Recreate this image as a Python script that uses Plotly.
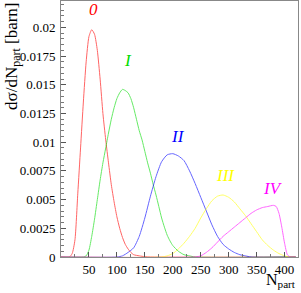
import plotly.graph_objects as go

# ---- data ----
n_0 = [0, 15, 20, 25, 30, 35, 40, 45, 50, 55, 60, 65, 70, 75, 80, 85, 90, 95, 100, 105, 110, 115, 120, 125, 130, 140, 150, 160, 420]
v_0 = [0, 0, 0.0003, 0.0015, 0.0055, 0.0095, 0.0135, 0.017, 0.0192, 0.0198, 0.0194, 0.018, 0.0155, 0.0125, 0.0102, 0.0082, 0.0063, 0.0048, 0.0035, 0.0025, 0.0017, 0.0011, 0.0007, 0.0004, 0.0002, 0.0001, 0.00003, 0, 0]

n_1 = [0, 40, 45, 50, 55, 60, 65, 70, 75, 80, 85, 90, 95, 100, 105, 110, 115, 120, 125, 130, 135, 140, 145, 150, 155, 160, 165, 170, 175, 180, 185, 190, 195, 200, 210, 220, 230, 240, 420]
v_1 = [0, 0, 0.0001, 0.0006, 0.0018, 0.0033, 0.005, 0.0067, 0.0082, 0.0095, 0.0108, 0.012, 0.013, 0.0138, 0.0143, 0.0146, 0.0145, 0.0143, 0.0138, 0.013, 0.012, 0.011, 0.0102, 0.0092, 0.0082, 0.0073, 0.0063, 0.0054, 0.0044, 0.0034, 0.0026, 0.0019, 0.0014, 0.001, 0.0005, 0.0002, 0.0001, 0, 0]

n_2 = [0, 100, 110, 120, 130, 140, 150, 160, 170, 180, 190, 200, 210, 220, 230, 240, 250, 260, 270, 280, 290, 300, 310, 320, 330, 340, 420]
v_2 = [0, 0, 0.0001, 0.0004, 0.0008, 0.0018, 0.0034, 0.0053, 0.007, 0.0083, 0.0089, 0.009, 0.0088, 0.0084, 0.0075, 0.0064, 0.0052, 0.004, 0.0028, 0.0018, 0.0011, 0.0007, 0.0004, 0.0002, 0.0001, 0, 0]

n_3 = [0, 180, 190, 200, 210, 220, 230, 240, 250, 260, 270, 280, 290, 300, 310, 320, 330, 340, 350, 360, 370, 380, 390, 400, 410, 420]
v_3 = [0, 0, 0.0001, 0.0003, 0.0007, 0.0012, 0.0018, 0.0025, 0.0034, 0.0042, 0.0049, 0.0053, 0.0054, 0.0052, 0.0048, 0.0042, 0.0036, 0.0029, 0.0022, 0.0015, 0.001, 0.0006, 0.0003, 0.0001, 0, 0]

n_4 = [0, 240, 250, 260, 270, 280, 290, 300, 310, 320, 330, 340, 350, 360, 370, 380, 385, 390, 395, 400, 405, 410, 420]
v_4 = [0, 0, 0.0001, 0.0004, 0.0008, 0.0013, 0.0018, 0.0022, 0.0026, 0.003, 0.0034, 0.0038, 0.0041, 0.0043, 0.0044, 0.0045, 0.0044, 0.0038, 0.0026, 0.0012, 0.0002, 0, 0]

series_names = ["0", "I", "II", "III", "IV"]
series_colors = ["#ff0000", "#00dd00", "#0000ff", "#ffff00", "#ff00ff"]
label_pos_n = [59, 120, 210, 294, 379]
label_pos_v = [0.0216, 0.0171, 0.0105, 0.0071, 0.006]

y_tickvals = [0, 0.0025, 0.005, 0.0075, 0.01, 0.0125, 0.015, 0.0175, 0.02]
y_ticktext = ["0", "0.0025", "0.005", "0.0075", "0.01", "0.0125", "0.015", "0.0175", "0.02"]
x_tickvals = [50, 100, 150, 200, 250, 300, 350, 400]

series_n = [n_0, n_1, n_2, n_3, n_4]
series_v = [v_0, v_1, v_2, v_3, v_4]

SERIF = "Liberation Serif"

fig = go.Figure()
for name, col, xs, ys in zip(series_names, series_colors, series_n, series_v):
    fig.add_trace(go.Scatter(x=xs, y=ys, mode="lines", name=name,
                             line=dict(color=col, width=1, shape="spline", smoothing=0.6),
                             opacity=0.6, showlegend=False))

for name, col, xn, yv in zip(series_names, series_colors, label_pos_n, label_pos_v):
    fig.add_annotation(x=xn, y=yv, text="<i>" + name + "</i>", showarrow=False,
                       font=dict(family=SERIF, size=17, color=col),
                       xanchor="center", yanchor="middle")

font = dict(family=SERIF, size=13, color="black")
fig.update_layout(
    width=301, height=293,
    margin=dict(l=61, r=3, t=1, b=36),
    plot_bgcolor="white", paper_bgcolor="white",
    font=font,
    xaxis=dict(range=[0, 424], tickvals=x_tickvals, ticks="inside", ticklen=5,
               tickcolor="#555", showline=True, linecolor="#888", mirror=True,
               showgrid=False, zeroline=False, tickfont=font,
               minor=dict(dtick=25, ticks="inside", ticklen=3, tickcolor="#777")),
    yaxis=dict(range=[0, 0.0223], tickvals=y_tickvals, ticktext=y_ticktext,
               ticks="inside", ticklen=5, tickcolor="#555", showline=True,
               linecolor="#888", mirror=True, showgrid=False, zeroline=False,
               tickfont=font, ticklabelstandoff=2,
               minor=dict(tickvals=[i * 0.0005 for i in range(45)], ticks="inside", ticklen=3, tickcolor="#777")),
)
fig.add_annotation(xref="paper", yref="paper", x=-0.205, y=1.0, text="dσ/dN<sub>part</sub> [barn]",
                   textangle=-90, showarrow=False, xanchor="center", yanchor="top",
                   font=dict(family=SERIF, size=17, color="black"))
fig.add_annotation(xref="paper", yref="paper", x=1.0, y=-0.138, text="N<sub>part</sub>",
                   showarrow=False, xanchor="right", yanchor="bottom",
                   font=dict(family=SERIF, size=16, color="black"))

fig.write_html("out.html", config={"displayModeBar": False},
               post_script="document.body.style.margin='0';document.body.style.overflow='hidden';")
